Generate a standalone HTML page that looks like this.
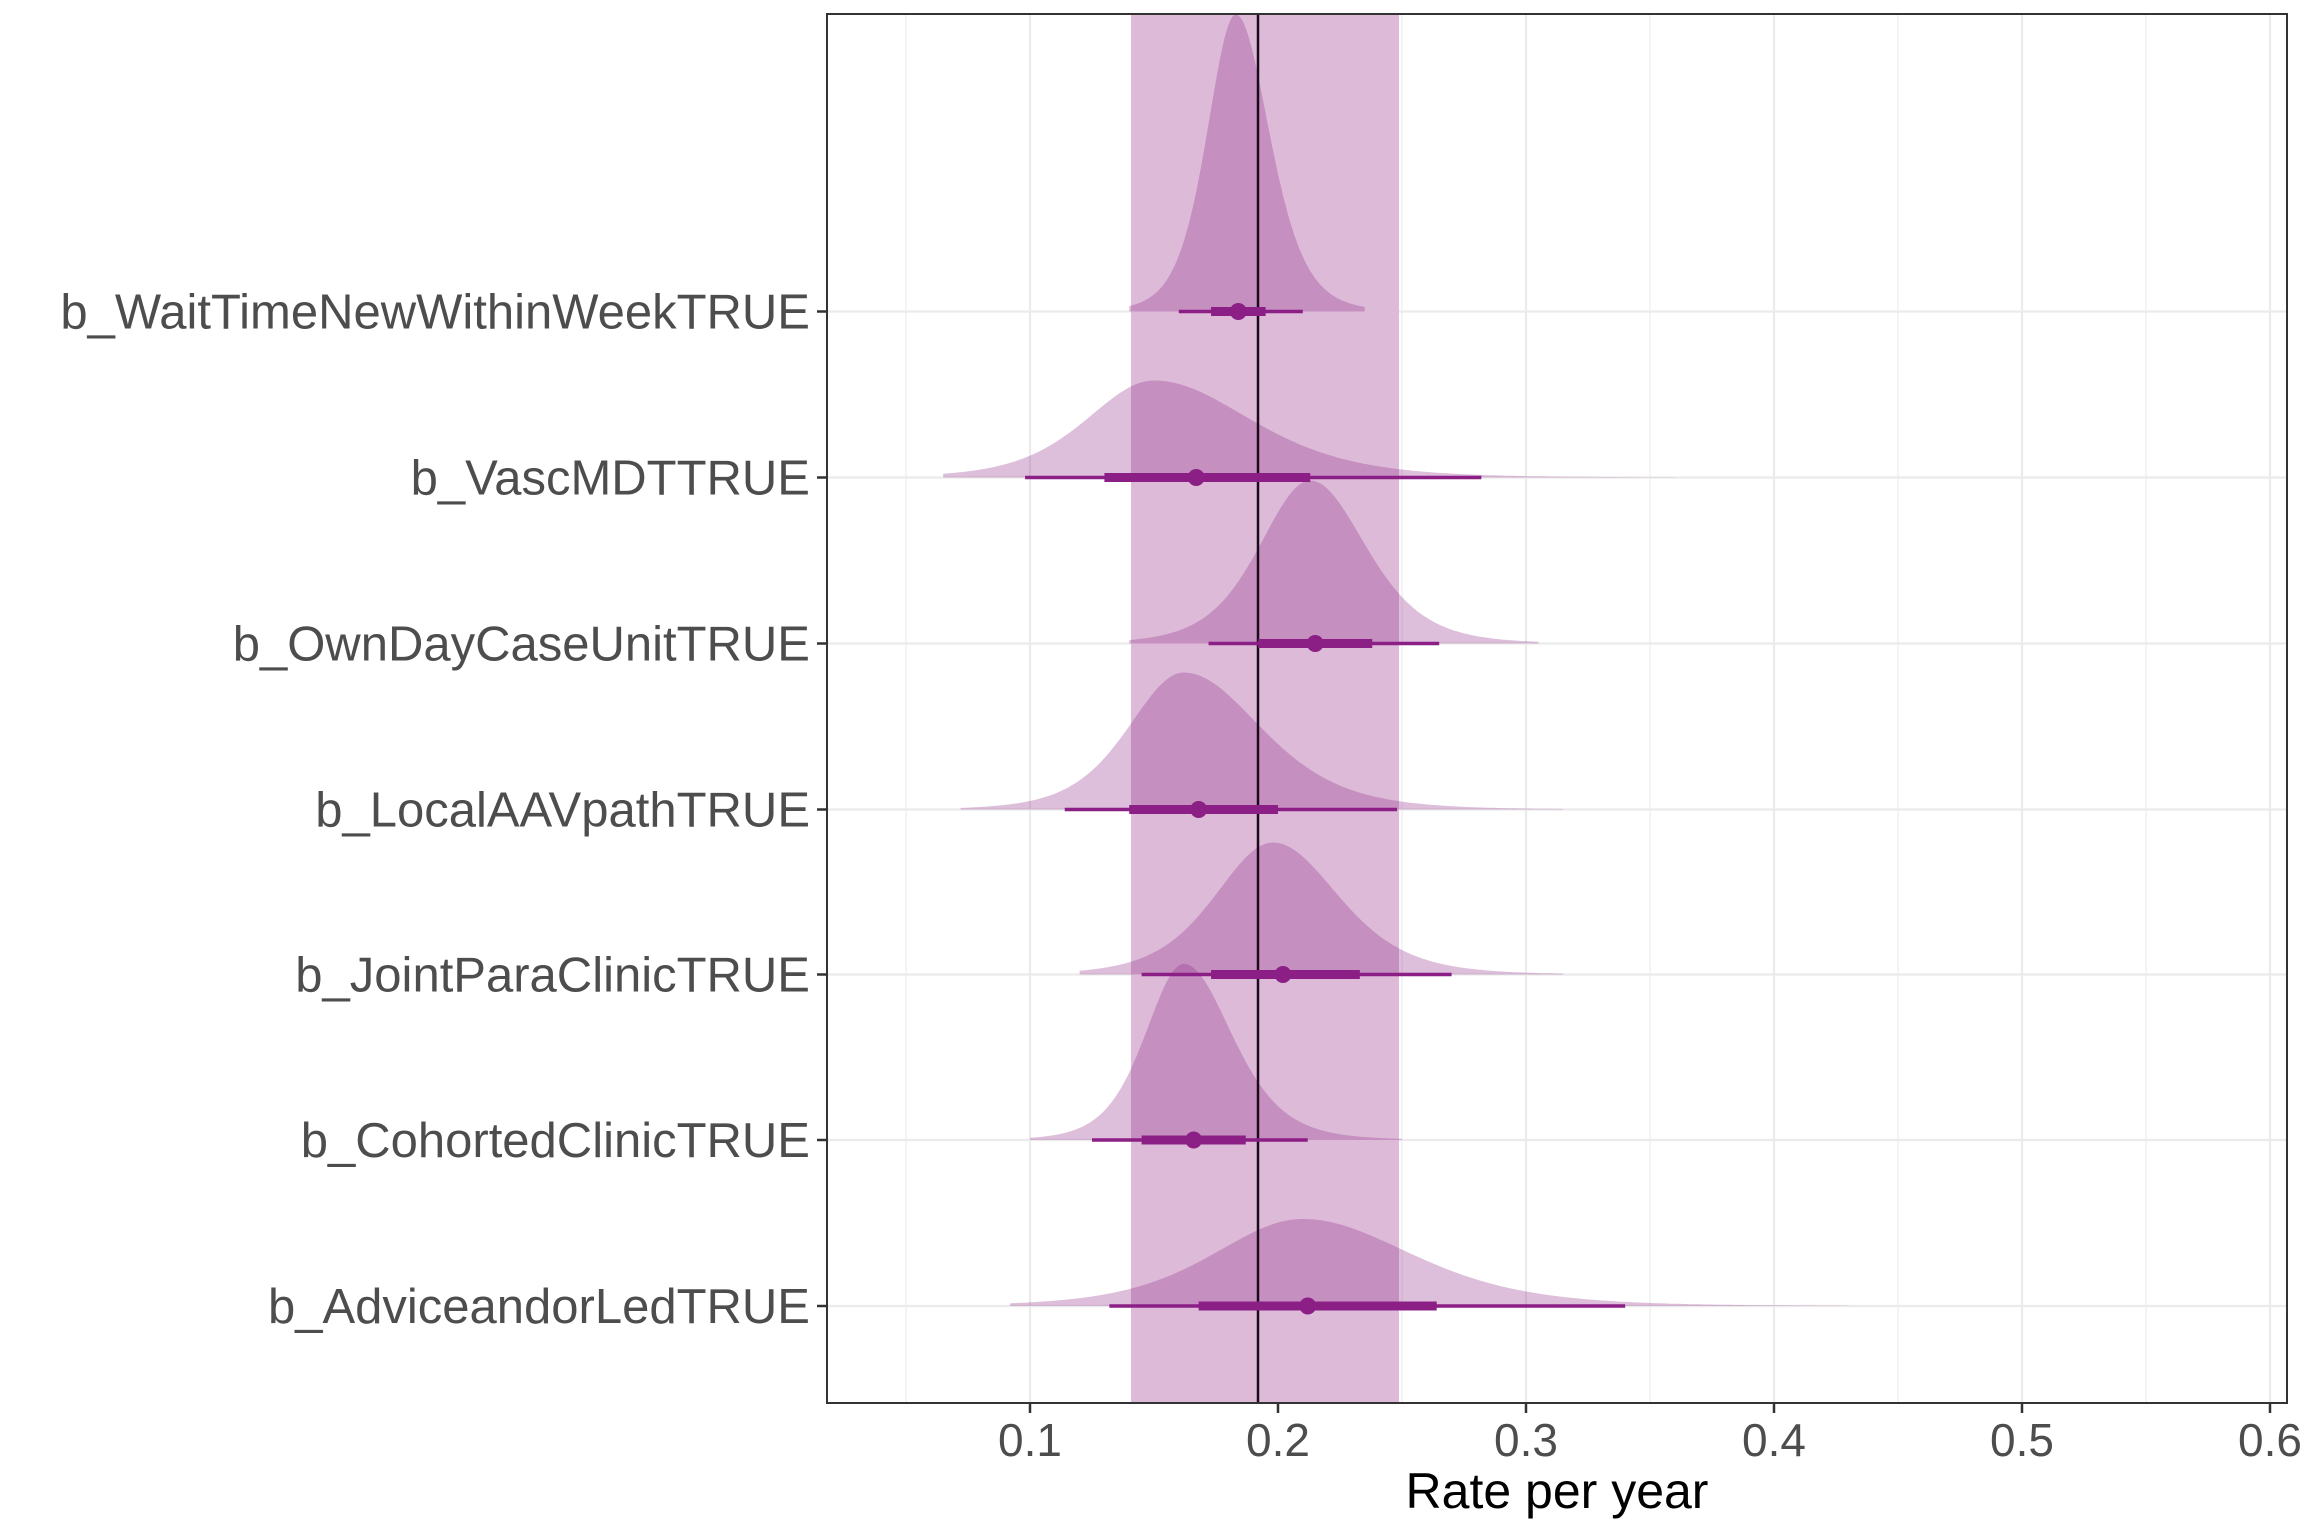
<!DOCTYPE html>
<html><head><meta charset="utf-8"><style>
html,body{margin:0;padding:0;background:#fff}
svg{display:block}
text{font-family:"Liberation Sans",Arial,sans-serif}
</style></head><body>
<svg id="s" width="2304" height="1536" xmlns="http://www.w3.org/2000/svg">
<rect width="2304" height="1536" fill="#fff"/>
<g id="grid"></g>
<rect x="1131" y="14" width="268" height="1389" fill="#ddbbd8"/>
<g id="dens"></g>
<line x1="1258" y1="14" x2="1258" y2="1403" stroke="#1a0a1a" stroke-width="2.5"/>
<g id="ints"></g>
<rect x="827" y="14" width="1460" height="1389" fill="none" stroke="#333" stroke-width="2"/>
<g id="labs" fill="#4d4d4d"></g>
<text x="1557" y="1508" font-size="50" fill="#000" text-anchor="middle">Rate per year</text>
</svg>
<script>
var NS="http://www.w3.org/2000/svg";
function X(v){return 1030+(v-0.1)*2480;}
function el(p,t,a,txt){var e=document.createElementNS(NS,t);for(var k in a)e.setAttribute(k,a[k]);if(txt)e.textContent=txt;document.getElementById(p).appendChild(e);return e;}
var rows=[311.5,477.5,643.5,809.5,974.5,1140,1306];
var names=["b_WaitTimeNewWithinWeekTRUE","b_VascMDTTRUE","b_OwnDayCaseUnitTRUE","b_LocalAAVpathTRUE","b_JointParaClinicTRUE","b_CohortedClinicTRUE","b_AdviceandorLedTRUE"];
for(var v=0.05;v<0.61;v+=0.05){var maj=Math.abs(v*10-Math.round(v*10))<1e-6;el("grid","line",{x1:X(v),x2:X(v),y1:14,y2:1403,stroke:"#ebebeb","stroke-width":maj?2.2:1.1});}
rows.forEach(function(y){el("grid","line",{x1:827,x2:2287,y1:y,y2:y,stroke:"#ebebeb","stroke-width":2.2});});
var D=[[0.183,0.012,0.014,0.14,0.235,297],[0.15,0.028,0.04,0.065,0.36,97],[0.213,0.021,0.023,0.14,0.305,163],[0.162,0.023,0.032,0.072,0.315,137],[0.198,0.024,0.027,0.12,0.315,132],[0.162,0.016,0.02,0.1,0.25,176],[0.21,0.037,0.045,0.092,0.43,87]];
D.forEach(function(d,i){var y0=rows[i];var p="M"+X(d[3])+","+y0;for(var k=0;k<=240;k++){var v=d[3]+(d[4]-d[3])*k/240;var s=v<d[0]?d[1]:d[2];var z=(v-d[0])/s;var h=d[5]*Math.pow(1+z*z/6,-3.5);p+=" L"+X(v).toFixed(1)+","+(y0-h).toFixed(1);}p+=" L"+X(d[4])+","+y0+" Z";el("dens","path",{d:p,fill:"#8e2a88","fill-opacity":0.3});});
var I=[[0.184,0.173,0.195,0.16,0.21],[0.167,0.13,0.213,0.098,0.282],[0.215,0.192,0.238,0.172,0.265],[0.168,0.14,0.2,0.114,0.248],[0.202,0.173,0.233,0.145,0.27],[0.166,0.145,0.187,0.125,0.212],[0.212,0.168,0.264,0.132,0.34]];
I.forEach(function(d,i){var y=rows[i];el("ints","line",{x1:X(d[3]),x2:X(d[4]),y1:y,y2:y,stroke:"#8b1f86","stroke-width":3.5});el("ints","line",{x1:X(d[1]),x2:X(d[2]),y1:y,y2:y,stroke:"#8b1f86","stroke-width":9});el("ints","circle",{cx:X(d[0]),cy:y,r:8.5,fill:"#8b1f86"});});
rows.forEach(function(y,i){el("labs","line",{x1:817,x2:827,y1:y,y2:y,stroke:"#333","stroke-width":2.5});el("labs","text",{x:810,y:y+17,"text-anchor":"end","font-size":49,textLength:"",},names[i]);});
[0.1,0.2,0.3,0.4,0.5,0.6].forEach(function(v){el("labs","line",{x1:X(v),x2:X(v),y1:1403,y2:1413,stroke:"#333","stroke-width":2.5});el("labs","text",{x:X(v),y:1456,"text-anchor":"middle","font-size":46},v.toFixed(1));});
document.querySelectorAll("text[textLength]").forEach(function(t){t.removeAttribute("textLength");});
</script>
</body></html>
